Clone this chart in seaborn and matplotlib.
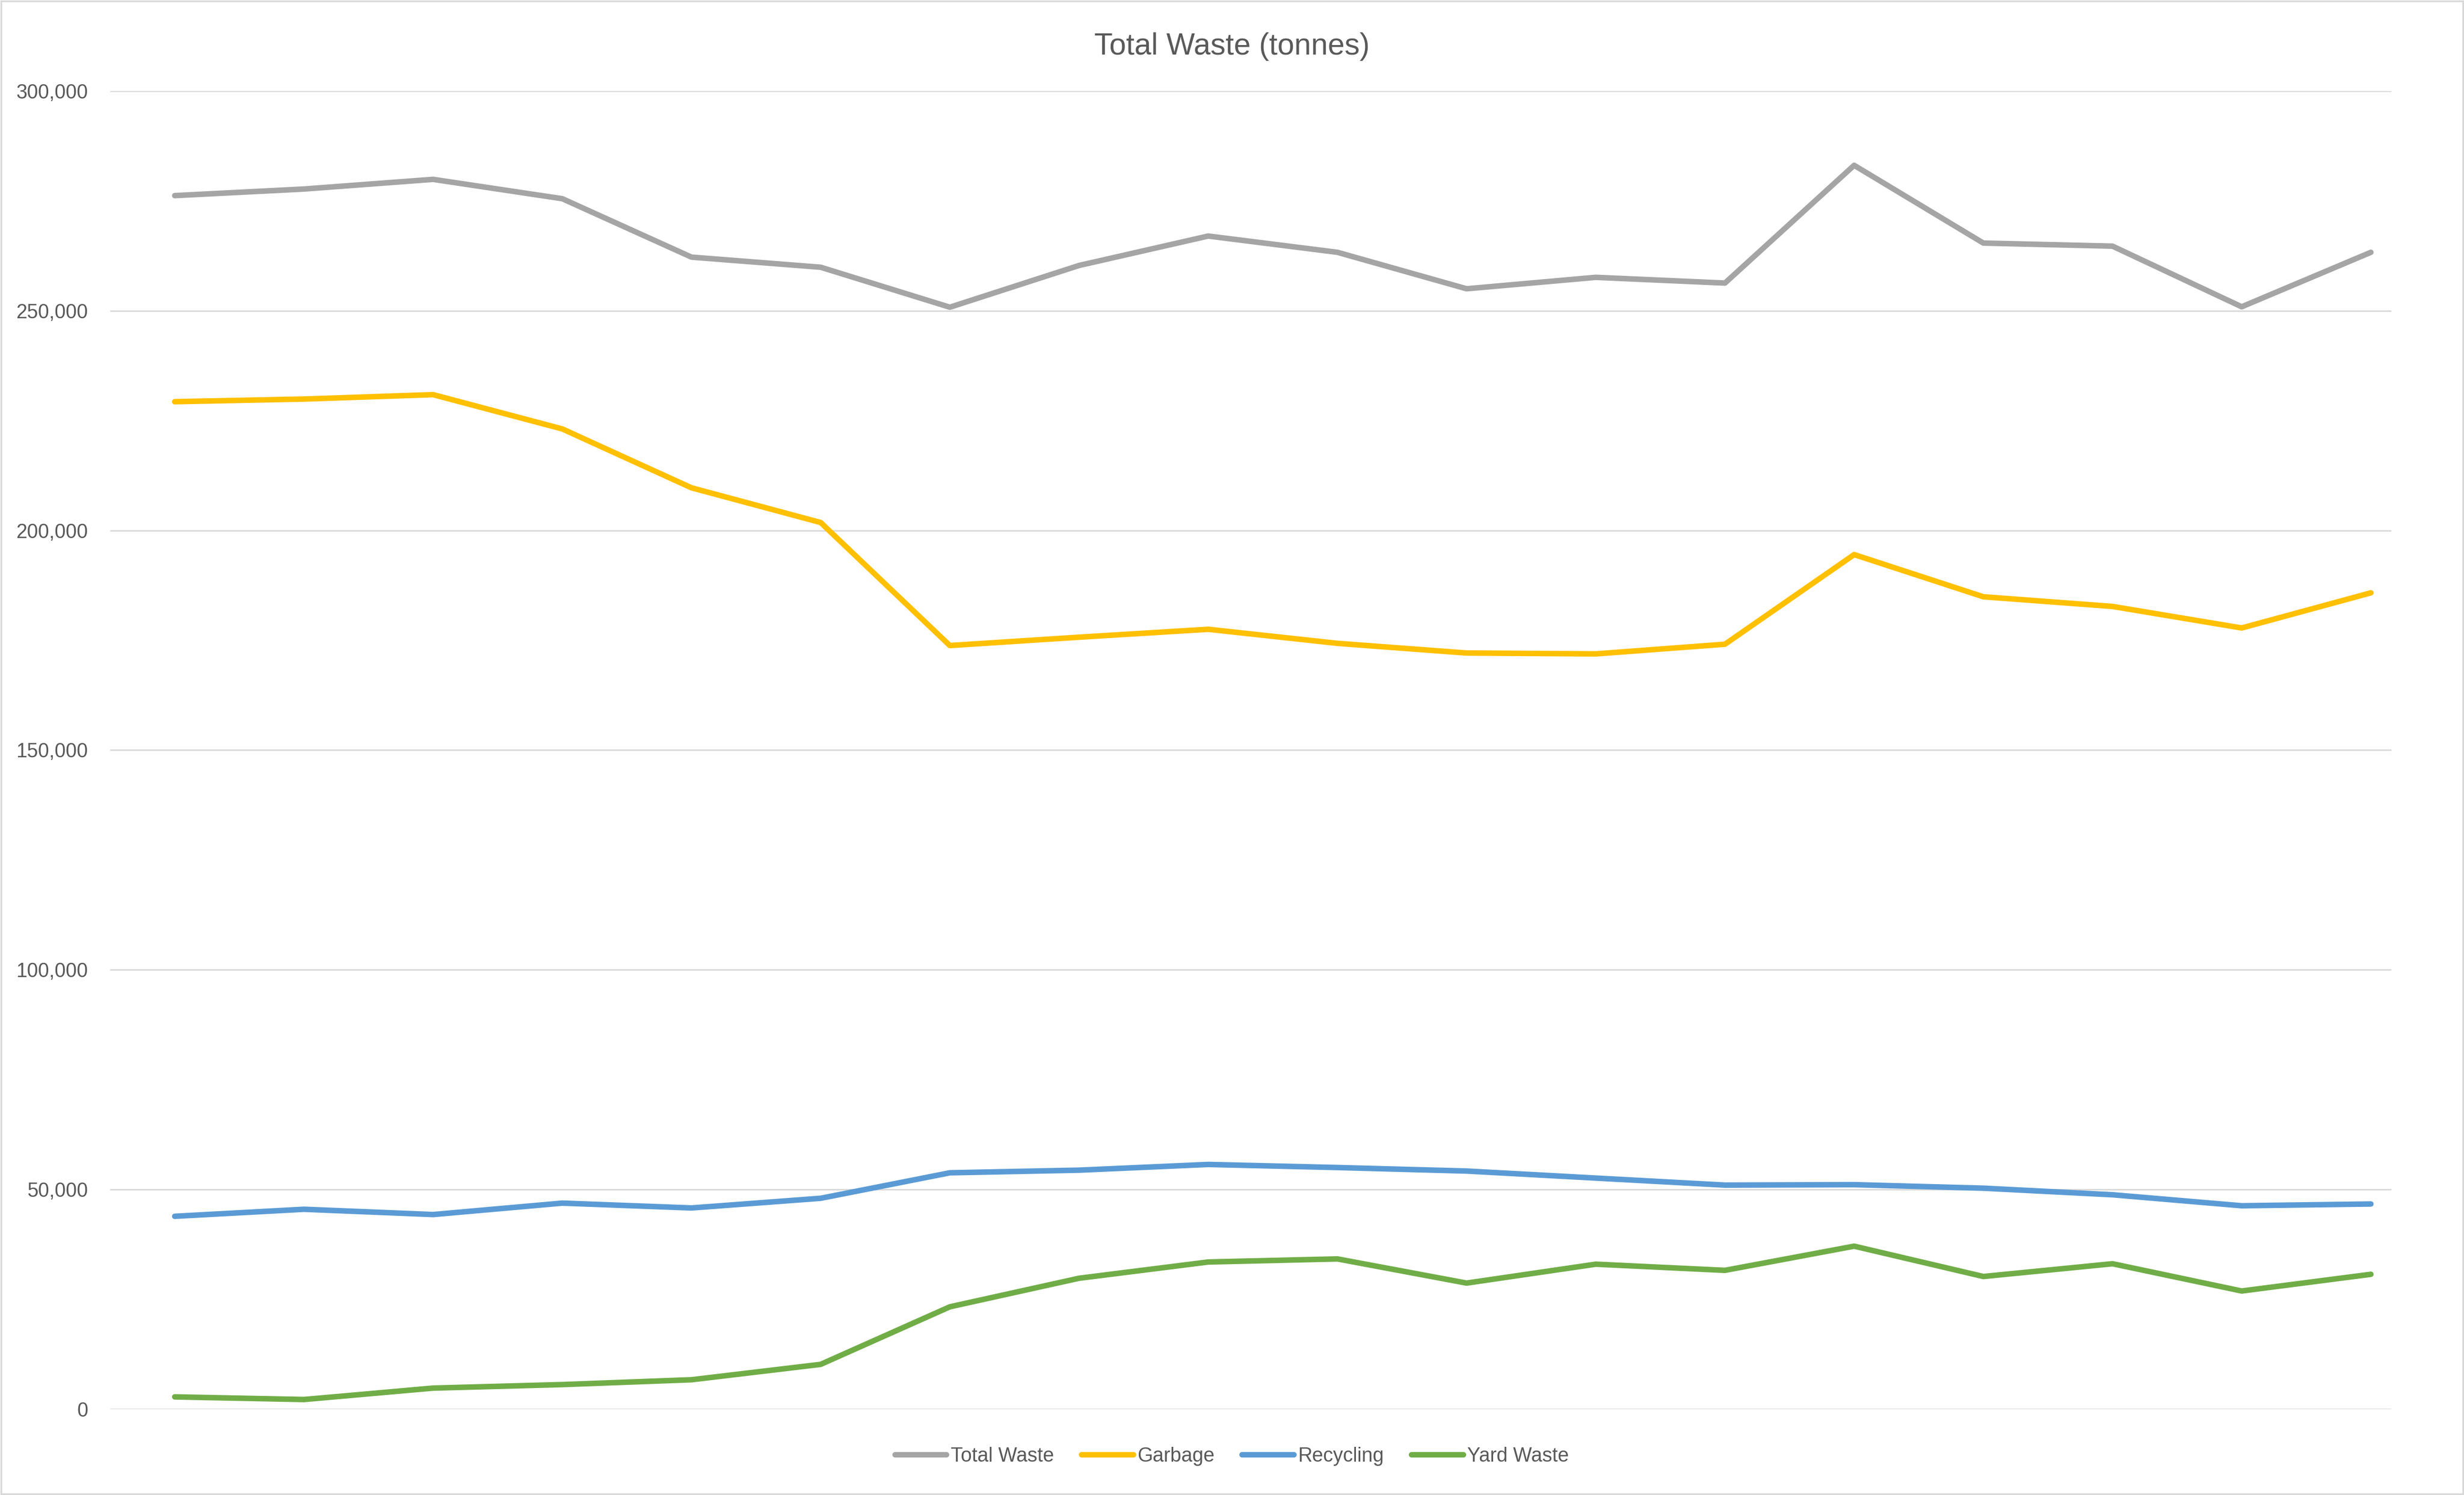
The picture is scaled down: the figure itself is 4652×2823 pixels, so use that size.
import pandas as pd
import numpy as np
import matplotlib.pyplot as plt
import seaborn as sns
from matplotlib.patches import Rectangle
from matplotlib.ticker import FuncFormatter

# values (tonnes), 18 periods, no x labels shown
period = list(range(18))
total_waste = [276200, 277700, 279900, 275500, 262200, 259900, 250800, 260300, 267000,
               263300, 255000, 257600, 256300, 283100, 265400, 264700, 250900, 263300]
garbage = [229300, 229900, 230900, 223100, 209700, 201800, 173800, 175700, 177500,
           174300, 172100, 171900, 174100, 194500, 184900, 182700, 177800, 185800]
recycling = [43900, 45500, 44300, 46900, 45800, 48000, 53800, 54400, 55700,
             55000, 54200, 52600, 51000, 51100, 50300, 48800, 46300, 46700]
yard_waste = [2800, 2200, 4800, 5600, 6700, 10200, 23300, 29800, 33500,
              34200, 28700, 33000, 31600, 37100, 30200, 33100, 26900, 30700]

series_names = ['Total Waste', 'Garbage', 'Recycling', 'Yard Waste']
series_colors = ['#A5A5A5', '#FFC000', '#5B9BD5', '#70AD47']

df = pd.DataFrame({
    'period': period * 4,
    'tonnes': total_waste + garbage + recycling + yard_waste,
    'series': np.repeat(series_names, len(period)),
})

sns.set_theme(style='white')
plt.rcParams['font.family'] = ['Liberation Sans', 'DejaVu Sans']
text_color = '#595959'
grid_color = '#D9D9D9'

fig = plt.figure(figsize=(46.52, 28.23), dpi=100)
ax = fig.add_axes([0.0447, 0.0574, 0.9706 - 0.0447, 0.9391 - 0.0574])

sns.lineplot(data=df, x='period', y='tonnes', hue='series', hue_order=series_names,
             palette=series_colors, linewidth=7.5, ax=ax, sort=False)
for ln in ax.lines:
    ln.set_solid_joinstyle('round')
    ln.set_solid_capstyle('round')

ax.set_xlim(-0.5, 17.16)
ax.set_ylim(0, 300000)
ax.set_yticks(range(0, 300001, 50000))
ax.yaxis.set_major_formatter(FuncFormatter(lambda v, p: f'{int(v):,}'))
ax.set_xticks([])
ax.set_xlabel('')
ax.set_ylabel('')
ax.grid(axis='y', color=grid_color, linewidth=2)
ax.set_axisbelow(True)
for s in ax.spines.values():
    s.set_visible(False)
ax.tick_params(axis='y', length=0, pad=30, labelsize=27, labelcolor=text_color)

handles, labels = ax.get_legend_handles_labels()
ax.get_legend().remove()
fig.legend(handles, labels, loc='center', bbox_to_anchor=(0.5, 0.0259), ncol=4,
           frameon=False, fontsize=27, labelcolor=text_color, handlelength=2.6,
           handletextpad=0.2, columnspacing=1.4)

fig.text(0.5, 0.969, 'Total Waste (tonnes)', ha='center', va='center',
         fontsize=41, color=text_color)

fig.patches.append(Rectangle((0.0005, 0.0008), 0.999, 0.9984, transform=fig.transFigure,
                             fill=False, edgecolor=grid_color, linewidth=2.5))

fig.savefig('out.png', dpi=100, facecolor='white')
